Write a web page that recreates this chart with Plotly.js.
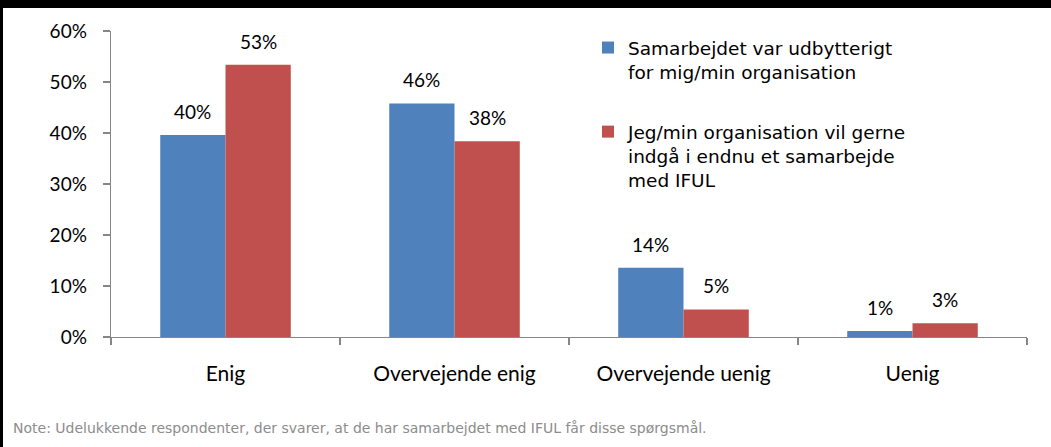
<!DOCTYPE html>
<html>
<head>
<meta charset="utf-8">
<script src="https://cdn.plot.ly/plotly-3.0.1.min.js"></script>
<style>
  html, body { margin: 0; padding: 0; background: #ffffff; }
  #wrap { position: relative; width: 1051px; height: 447px; overflow: hidden; }
  #chart { position: absolute; left: 0; top: 0; width: 1051px; height: 447px; }
  .frame-top { position: absolute; left: 0; top: 0; width: 1051px; height: 8px; background: #000; pointer-events: none; }
  .frame-left { position: absolute; left: 0; top: 0; width: 3px; height: 447px; background: #000; pointer-events: none; }
</style>
</head>
<body>
<div id="wrap">
  <div id="chart"></div>
  <div class="frame-top"></div>
  <div class="frame-left"></div>
</div>
<script>
// ---- data ----
const categories = ['Enig', 'Overvejende enig', 'Overvejende uenig', 'Uenig'];
const seriesNames = [
  'Samarbejdet var udbytterigt<br>for mig/min organisation',
  'Jeg/min organisation vil gerne<br>indgå i endnu et samarbejde<br>med IFUL'
];
const blueValues = [39.6, 45.8, 13.6, 1.2];
const redValues  = [53.4, 38.4, 5.4, 2.7];
const blueLabels = ['40%', '46%', '14%', '1%'];
const redLabels  = ['53%', '38%', '5%', '3%'];
const yTickVals  = [0, 10, 20, 30, 40, 50, 60];
const yTickText  = ['0%', '10%', '20%', '30%', '40%', '50%', '60%'];
const noteText = 'Note: Udelukkende respondenter, der svarer, at de har samarbejdet med IFUL får disse spørgsmål.';

// ---- styling ----
const BLUE = '#4F81BD';
const RED = '#C0504D';
const AXIS = '#868686';
const numFont = 'Lato, "Liberation Sans", sans-serif';
const legFont = '"DejaVu Sans", Verdana, sans-serif';

const W = 1051, H = 447;
const margin = { l: 111, r: 24, t: 31, b: 110, pad: 0 };
const bargap = 0.43;
const plotW = W - margin.l - margin.r;
const plotH = H - margin.t - margin.b;
const barPx = plotW / categories.length * (1 - bargap) / 2;

const traces = [
  { type: 'bar', x: categories, y: blueValues, name: seriesNames[0],
    marker: { color: BLUE }, legendgroup: 'a', hoverinfo: 'skip' },
  { type: 'bar', x: categories, y: redValues, name: seriesNames[1],
    marker: { color: RED }, legendgroup: 'b', hoverinfo: 'skip' }
];

const annotations = [];
[[blueValues, blueLabels, -1], [redValues, redLabels, 1]].forEach(([vals, labs, side]) => {
  vals.forEach((v, i) => {
    annotations.push({
      x: categories[i], y: v, xref: 'x', yref: 'y',
      text: labs[i], showarrow: false,
      xanchor: 'center', yanchor: 'bottom',
      xshift: side * barPx / 2, yshift: 10,
      font: { family: numFont, size: 19, color: '#000' }
    });
  });
});
annotations.push({
  xref: 'paper', yref: 'paper',
  x: (11 - margin.l) / plotW, y: -(428 - (H - margin.b)) / plotH,
  xanchor: 'left', yanchor: 'middle', showarrow: false,
  text: noteText,
  font: { family: legFont, size: 14, color: '#8c8c8c' }
});

const layout = {
  width: W, height: H,
  margin: margin,
  paper_bgcolor: '#ffffff', plot_bgcolor: '#ffffff',
  barmode: 'group', bargap: bargap, bargroupgap: 0,
  showlegend: true,
  legend: {
    x: (588 - margin.l) / plotW, y: 1 - (29 - margin.t) / plotH,
    xanchor: 'left', yanchor: 'top',
    font: { family: legFont, size: 18.5, color: '#000' },
    valign: 'top', tracegroupgap: 33, bgcolor: 'rgba(0,0,0,0)',
    traceorder: 'grouped'
  },
  xaxis: {
    type: 'category',
    showline: true, linecolor: AXIS, linewidth: 1.3,
    ticks: 'outside', tickson: 'boundaries', ticklen: 7, tickcolor: AXIS, tickwidth: 1.3,
    tickfont: { family: numFont, size: 21, color: '#000' },
    ticklabelstandoff: 17,
    showgrid: false, zeroline: false, fixedrange: true
  },
  yaxis: {
    range: [0, 60], tickvals: yTickVals, ticktext: yTickText,
    showline: true, linecolor: AXIS, linewidth: 1.3,
    ticks: 'outside', ticklen: 7, tickcolor: AXIS, tickwidth: 1.3,
    tickfont: { family: numFont, size: 19, color: '#000' },
    ticklabelstandoff: 12,
    showgrid: false, zeroline: false, fixedrange: true
  },
  annotations: annotations
};

Plotly.newPlot('chart', traces, layout, { displayModeBar: false, staticPlot: true });
</script>
</body>
</html>
